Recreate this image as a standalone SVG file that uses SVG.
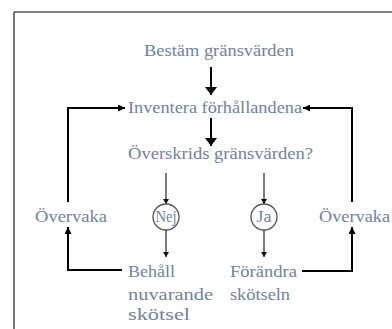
<svg xmlns="http://www.w3.org/2000/svg" width="392" height="329" viewBox="0 0 392 329">
<defs>
<style>
.t{font-family:"Liberation Serif","Times New Roman","DejaVu Serif",serif;font-size:16px;fill:#6f83a2}
.c{fill:#fff;stroke:#555;stroke-width:1.3}
.thick{fill:none;stroke:#000;stroke-width:2}
.thin{fill:none;stroke:#222;stroke-width:1.2}
</style>
<marker id="big" viewBox="0 0 8 12" markerUnits="userSpaceOnUse" markerWidth="8" markerHeight="12" refX="8" refY="6" orient="auto"><path d="M0,0L8,6L0,12z" fill="#000"/></marker>
<marker id="mid" viewBox="0 0 7 7" markerUnits="userSpaceOnUse" markerWidth="7" markerHeight="7" refX="7" refY="3.5" orient="auto"><path d="M0,0L7,3.5L0,7z" fill="#000"/></marker>
<marker id="sm" viewBox="0 0 5 6" markerUnits="userSpaceOnUse" markerWidth="5" markerHeight="6" refX="5" refY="3" orient="auto"><path d="M0,0L5,3L0,6z" fill="#111"/></marker>
</defs>
<rect width="392" height="329" fill="#fff"/>
<g id="frame">
<line x1="14" y1="12" x2="392" y2="12" stroke="#000" stroke-width="1"/>
<line x1="14" y1="12" x2="14" y2="329" stroke="#777" stroke-width="2"/>
</g>
<g id="connectors">
<path class="thick" d="M211,67V95" marker-end="url(#big)"/>
<path class="thick" d="M211,118V146" marker-end="url(#big)"/>
<path class="thin" d="M166,173V204" marker-end="url(#sm)"/>
<path class="thin" d="M264,173V204" marker-end="url(#sm)"/>
<path class="thin" d="M166,230V257" marker-end="url(#sm)"/>
<path class="thin" d="M264,230V257" marker-end="url(#sm)"/>
<path class="thick" d="M68,202V108H125" marker-end="url(#mid)"/>
<path class="thick" d="M352,202V108H303" marker-end="url(#mid)"/>
<path class="thick" d="M122,270H68V227" marker-end="url(#mid)"/>
<path class="thick" d="M302,271H352V227" marker-end="url(#mid)"/>
</g>
<g id="n-bestam"><text class="t" x="144" y="56" textLength="150" lengthAdjust="spacingAndGlyphs">Bestäm gränsvärden</text></g>
<g id="n-inventera"><text class="t" x="128" y="113" textLength="174" lengthAdjust="spacingAndGlyphs">Inventera förhållandena</text></g>
<g id="n-overskrids"><text class="t" x="128" y="159" textLength="185" lengthAdjust="spacingAndGlyphs">Överskrids gränsvärden?</text></g>
<g id="n-nej"><circle class="c" cx="166" cy="217" r="13"/><text class="t" x="155.5" y="222" textLength="21" lengthAdjust="spacingAndGlyphs">Nej</text></g>
<g id="n-ja"><circle class="c" cx="264" cy="217" r="13"/><text class="t" x="256.5" y="222" textLength="15" lengthAdjust="spacingAndGlyphs">Ja</text></g>
<g id="n-overvaka-l"><text class="t" x="35" y="222" textLength="72" lengthAdjust="spacingAndGlyphs">Övervaka</text></g>
<g id="n-overvaka-r"><text class="t" x="319" y="222" textLength="71" lengthAdjust="spacingAndGlyphs">Övervaka</text></g>
<g id="n-behall"><text class="t" x="128" y="277" textLength="47" lengthAdjust="spacingAndGlyphs">Behåll</text><text class="t" x="128" y="300" textLength="85" lengthAdjust="spacingAndGlyphs">nuvarande</text><text class="t" x="128" y="320" textLength="62" lengthAdjust="spacingAndGlyphs">skötsel</text></g>
<g id="n-forandra"><text class="t" x="230" y="277" textLength="67" lengthAdjust="spacingAndGlyphs">Förändra</text><text class="t" x="230" y="300" textLength="60" lengthAdjust="spacingAndGlyphs">skötseln</text></g>
</svg>
